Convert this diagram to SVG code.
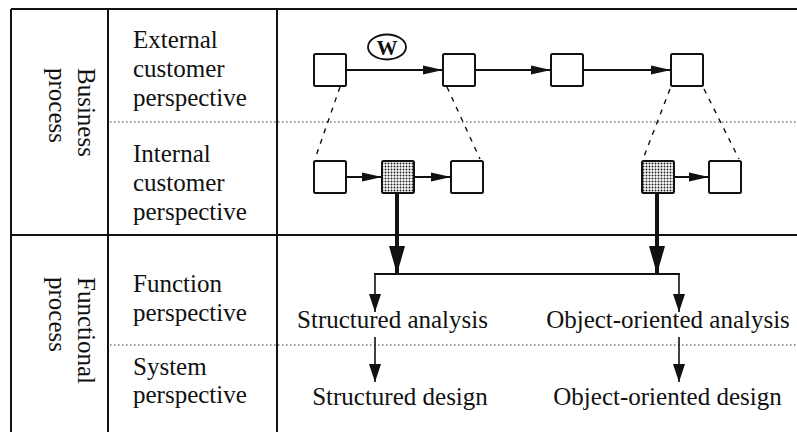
<svg xmlns="http://www.w3.org/2000/svg" width="797" height="432" viewBox="0 0 797 432">
  <style>
    .lbl { font-family: "Liberation Serif", "Times New Roman", serif; font-size: 25px; fill: #111; }
    .frame { stroke: #111; stroke-width: 2; fill: none; }
    .dots { stroke: #333; stroke-width: 1.2; stroke-dasharray: 1.5 2.5; fill: none; }
    .box { fill: #fff; stroke: #111; stroke-width: 2; }
    .shade { fill: url(#stipple); stroke: #111; stroke-width: 2; }
    .flow { stroke: #111; stroke-width: 2; fill: none; }
    .thin { stroke: #111; stroke-width: 1.6; fill: none; }
    .thick { stroke: #111; stroke-width: 4; fill: none; }
    .dash { stroke: #111; stroke-width: 1.4; stroke-dasharray: 5 6; fill: none; }
  </style>
  <defs>
    <pattern id="stipple" width="3" height="3" patternUnits="userSpaceOnUse">
      <rect width="3" height="3" fill="#fff"/>
      <circle cx="1.5" cy="1.5" r="1" fill="#222"/>
    </pattern>
    <marker id="hd" markerWidth="20" markerHeight="10" refX="20" refY="5" orient="auto" markerUnits="userSpaceOnUse">
      <path d="M0,0.5 L20,5 L0,9.5 Z" fill="#111"/>
    </marker>
    <marker id="hdv" markerWidth="18" markerHeight="12" refX="18" refY="6" orient="auto" markerUnits="userSpaceOnUse">
      <path d="M0,0 L18,6 L0,12 Z" fill="#111"/>
    </marker>
    <marker id="hdk" markerWidth="28" markerHeight="16" refX="28" refY="8" orient="auto" markerUnits="userSpaceOnUse">
      <path d="M0,0 L28,8 L0,16 Z" fill="#111"/>
    </marker>
  </defs>

  <!-- table frame -->
  <g id="frame">
    <line class="frame" x1="11" y1="9" x2="797" y2="9"/>
    <line class="frame" x1="11" y1="235" x2="797" y2="235" stroke-width="2.5"/>
    <line class="frame" x1="11" y1="9" x2="11" y2="432"/>
    <line class="frame" x1="108" y1="9" x2="108" y2="432"/>
    <line class="frame" x1="277" y1="9" x2="277" y2="432"/>
    <line class="dots" x1="110" y1="122" x2="797" y2="122"/>
    <line class="dots" x1="110" y1="345" x2="797" y2="345"/>
  </g>

  <!-- row headers -->
  <g id="group-business">
    <text class="lbl" transform="translate(78,68) rotate(90)">Business</text>
    <text class="lbl" transform="translate(49,68) rotate(90)">process</text>
  </g>
  <g id="group-functional">
    <text class="lbl" transform="translate(78,277) rotate(90)">Functional</text>
    <text class="lbl" transform="translate(49,277) rotate(90)">process</text>
  </g>
  <g id="row-external">
    <text class="lbl" x="133" y="48">External</text>
    <text class="lbl" x="133" y="77">customer</text>
    <text class="lbl" x="133" y="106">perspective</text>
  </g>
  <g id="row-internal">
    <text class="lbl" x="133" y="162">Internal</text>
    <text class="lbl" x="133" y="191">customer</text>
    <text class="lbl" x="133" y="220">perspective</text>
  </g>
  <g id="row-function">
    <text class="lbl" x="133" y="292">Function</text>
    <text class="lbl" x="133" y="321">perspective</text>
  </g>
  <g id="row-system">
    <text class="lbl" x="133" y="375">System</text>
    <text class="lbl" x="133" y="403">perspective</text>
  </g>

  <!-- connectors -->
  <g id="connectors">
    <line class="flow" x1="346" y1="70" x2="443" y2="70" marker-end="url(#hd)"/>
    <line class="flow" x1="475" y1="70" x2="551" y2="70" marker-end="url(#hd)"/>
    <line class="flow" x1="583" y1="70" x2="671" y2="70" marker-end="url(#hd)"/>
    <line class="flow" x1="346" y1="177" x2="382" y2="177" marker-end="url(#hd)"/>
    <line class="flow" x1="414" y1="177" x2="451" y2="177" marker-end="url(#hd)"/>
    <line class="flow" x1="674" y1="177" x2="709" y2="177" marker-end="url(#hd)"/>

    <line class="dash" x1="340" y1="87" x2="315" y2="159"/>
    <line class="dash" x1="447" y1="87" x2="480" y2="159"/>
    <line class="dash" x1="670" y1="89" x2="643" y2="159"/>
    <line class="dash" x1="704" y1="89" x2="739" y2="159"/>

    <line class="thick" x1="397" y1="194" x2="397" y2="274" marker-end="url(#hdk)"/>
    <line class="thick" x1="657" y1="194" x2="657" y2="274" marker-end="url(#hdk)"/>
    <line class="flow" x1="374" y1="274" x2="680" y2="274"/>
    <line class="thin" x1="375" y1="273" x2="375" y2="312" marker-end="url(#hdv)"/>
    <line class="thin" x1="679" y1="273" x2="679" y2="312" marker-end="url(#hdv)"/>
    <line class="thin" x1="375" y1="337" x2="375" y2="382" marker-end="url(#hdv)"/>
    <line class="thin" x1="679" y1="337" x2="679" y2="382" marker-end="url(#hdv)"/>
  </g>

  <!-- external customer steps -->
  <g id="ext-1"><rect class="box" x="314" y="54" width="32" height="32" rx="1.5"/></g>
  <g id="ext-2"><rect class="box" x="443" y="54" width="32" height="32" rx="1.5"/></g>
  <g id="ext-3"><rect class="box" x="551" y="54" width="32" height="32" rx="1.5"/></g>
  <g id="ext-4"><rect class="box" x="671" y="54" width="32" height="32" rx="1.5"/></g>
  <g id="w-mark">
    <ellipse cx="387" cy="47" rx="19" ry="12.5" fill="#fff" stroke="#111" stroke-width="1.8"/>
    <text x="387" y="55" text-anchor="middle" font-family="Liberation Serif, serif" font-size="21" font-weight="bold" fill="#111">W</text>
  </g>

  <!-- internal customer steps -->
  <g id="int-1"><rect class="box" x="314" y="161" width="32" height="32" rx="1.5"/></g>
  <g id="int-2"><rect class="shade" x="382" y="161" width="32" height="32" rx="1.5"/></g>
  <g id="int-3"><rect class="box" x="451" y="161" width="32" height="32" rx="1.5"/></g>
  <g id="int-4"><rect class="shade" x="642" y="161" width="32" height="32" rx="1.5"/></g>
  <g id="int-5"><rect class="box" x="709" y="161" width="32" height="32" rx="1.5"/></g>

  <!-- functional methods -->
  <g id="structured-analysis"><text class="lbl" x="392.5" y="328" text-anchor="middle">Structured analysis</text></g>
  <g id="oo-analysis"><text class="lbl" x="668" y="328" text-anchor="middle">Object-oriented analysis</text></g>
  <g id="structured-design"><text class="lbl" x="400" y="405" text-anchor="middle">Structured design</text></g>
  <g id="oo-design"><text class="lbl" x="667.5" y="405" text-anchor="middle">Object-oriented design</text></g>
</svg>
